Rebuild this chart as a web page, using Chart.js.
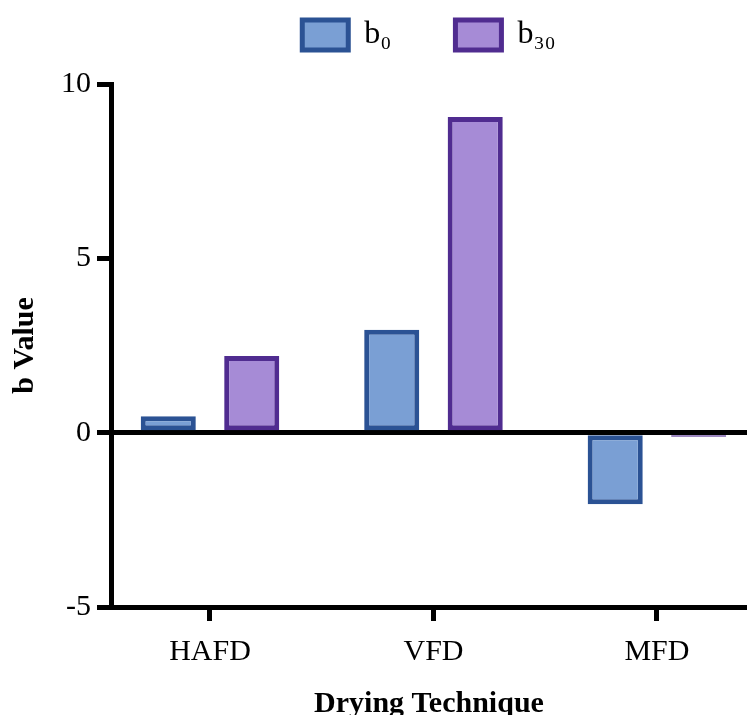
<!DOCTYPE html>
<html>
<head>
<meta charset="utf-8">
<script src="https://cdn.jsdelivr.net/npm/chart.js@4/dist/chart.umd.min.js"></script>
<style>
html,body{margin:0;padding:0;background:#fff;overflow:hidden;}
#wrap{position:relative;width:747px;height:722px;}
</style>
</head>
<body>
<div id="wrap"><canvas id="c"></canvas></div>
<script>
const categories = ["HAFD", "VFD", "MFD"];
const seriesNames = ["b\u2080", "b\u2083\u2080"];
const b0Values = [0.47, 2.95, -2.05];
const b30Values = [2.2, 9.05, -0.12];
const yTicks = [-5, 0, 5, 10];

const fillColors = ["#7a9fd4", "#a68bd6"];
const borderColors = ["#2b5294", "#502c90"];

function toPoints(vals){ return vals.map((v,i)=>({x:i, y:v})); }

const serif = "'Liberation Serif', 'Times New Roman', serif";

// extra vertical room below the legend row
const legendExtraHeight = 23;
const legendGap = {
  id: 'legendGap',
  beforeLayout(chart) {
    const lg = chart.legend;
    if (lg && !lg._gapWrapped) {
      const f = lg.fit;
      lg.fit = function() { f.call(this); this.height += legendExtraHeight; };
      lg._gapWrapped = true;
    }
  }
};

new Chart(document.getElementById('c'), {
  type: 'bar',
  data: {
    datasets: [
      {label: seriesNames[0], data: toPoints(b0Values), backgroundColor: fillColors[0], borderColor: borderColors[0], borderWidth: 5, borderSkipped: false},
      {label: seriesNames[1], data: toPoints(b30Values), backgroundColor: fillColors[1], borderColor: borderColors[1], borderWidth: 5, borderSkipped: false}
    ]
  },
  plugins: [legendGap],
  options: {
    responsive: true,
    maintainAspectRatio: false,
    animation: false,
    categoryPercentage: 0.747,
    barPercentage: 0.66,
    layout: {padding: {top: -45, right: 0, left: 0, bottom: 0}},
    plugins: {
      legend: {
        position: 'top',
        fullSize: false,
        labels: {
          font: {family: serif, size: 32},
          color: '#000',
          boxWidth: 46,
          boxHeight: 30,
          padding: 64
        }
      },
      tooltip: {enabled: false}
    },
    scales: {
      x: {
        type: 'linear',
        offset: false,
        min: -0.443,
        max: 2.403,
        afterBuildTicks: s => { s.ticks = categories.map((_, i) => ({value: i})); },
        ticks: {
          callback: v => categories[v],
          font: {family: serif, size: 30},
          color: '#000',
          padding: 13,
          maxRotation: 0,
          autoSkip: false
        },
        grid: {offset: false, drawOnChartArea: false, drawTicks: true, tickLength: 14, tickColor: '#000', tickWidth: 5},
        border: {display: true, color: '#000', width: 5},
        title: {display: true, text: 'Drying Technique', font: {family: serif, size: 30, weight: 'bold'}, color: '#000', padding: {top: 3, bottom: 0}}
      },
      y: {
        min: -5,
        max: 10,
        afterBuildTicks: s => { s.ticks = yTicks.map(v => ({value: v})); },
        afterFit: s => { s.width = 111; },
        ticks: {
          font: {family: serif, size: 30},
          color: '#000',
          padding: 6
        },
        grid: {
          color: c => (c.tick && c.tick.value === 0) ? '#000' : 'rgba(0,0,0,0)',
          lineWidth: 5,
          drawTicks: true,
          tickLength: 14,
          tickColor: '#000',
          tickWidth: 5
        },
        border: {display: true, color: '#000', width: 5},
        title: {display: true, text: 'b Value', font: {family: serif, size: 30, weight: 'bold'}, color: '#000', padding: {top: 7, bottom: 0}}
      }
    }
  }
});
</script>
</body>
</html>
